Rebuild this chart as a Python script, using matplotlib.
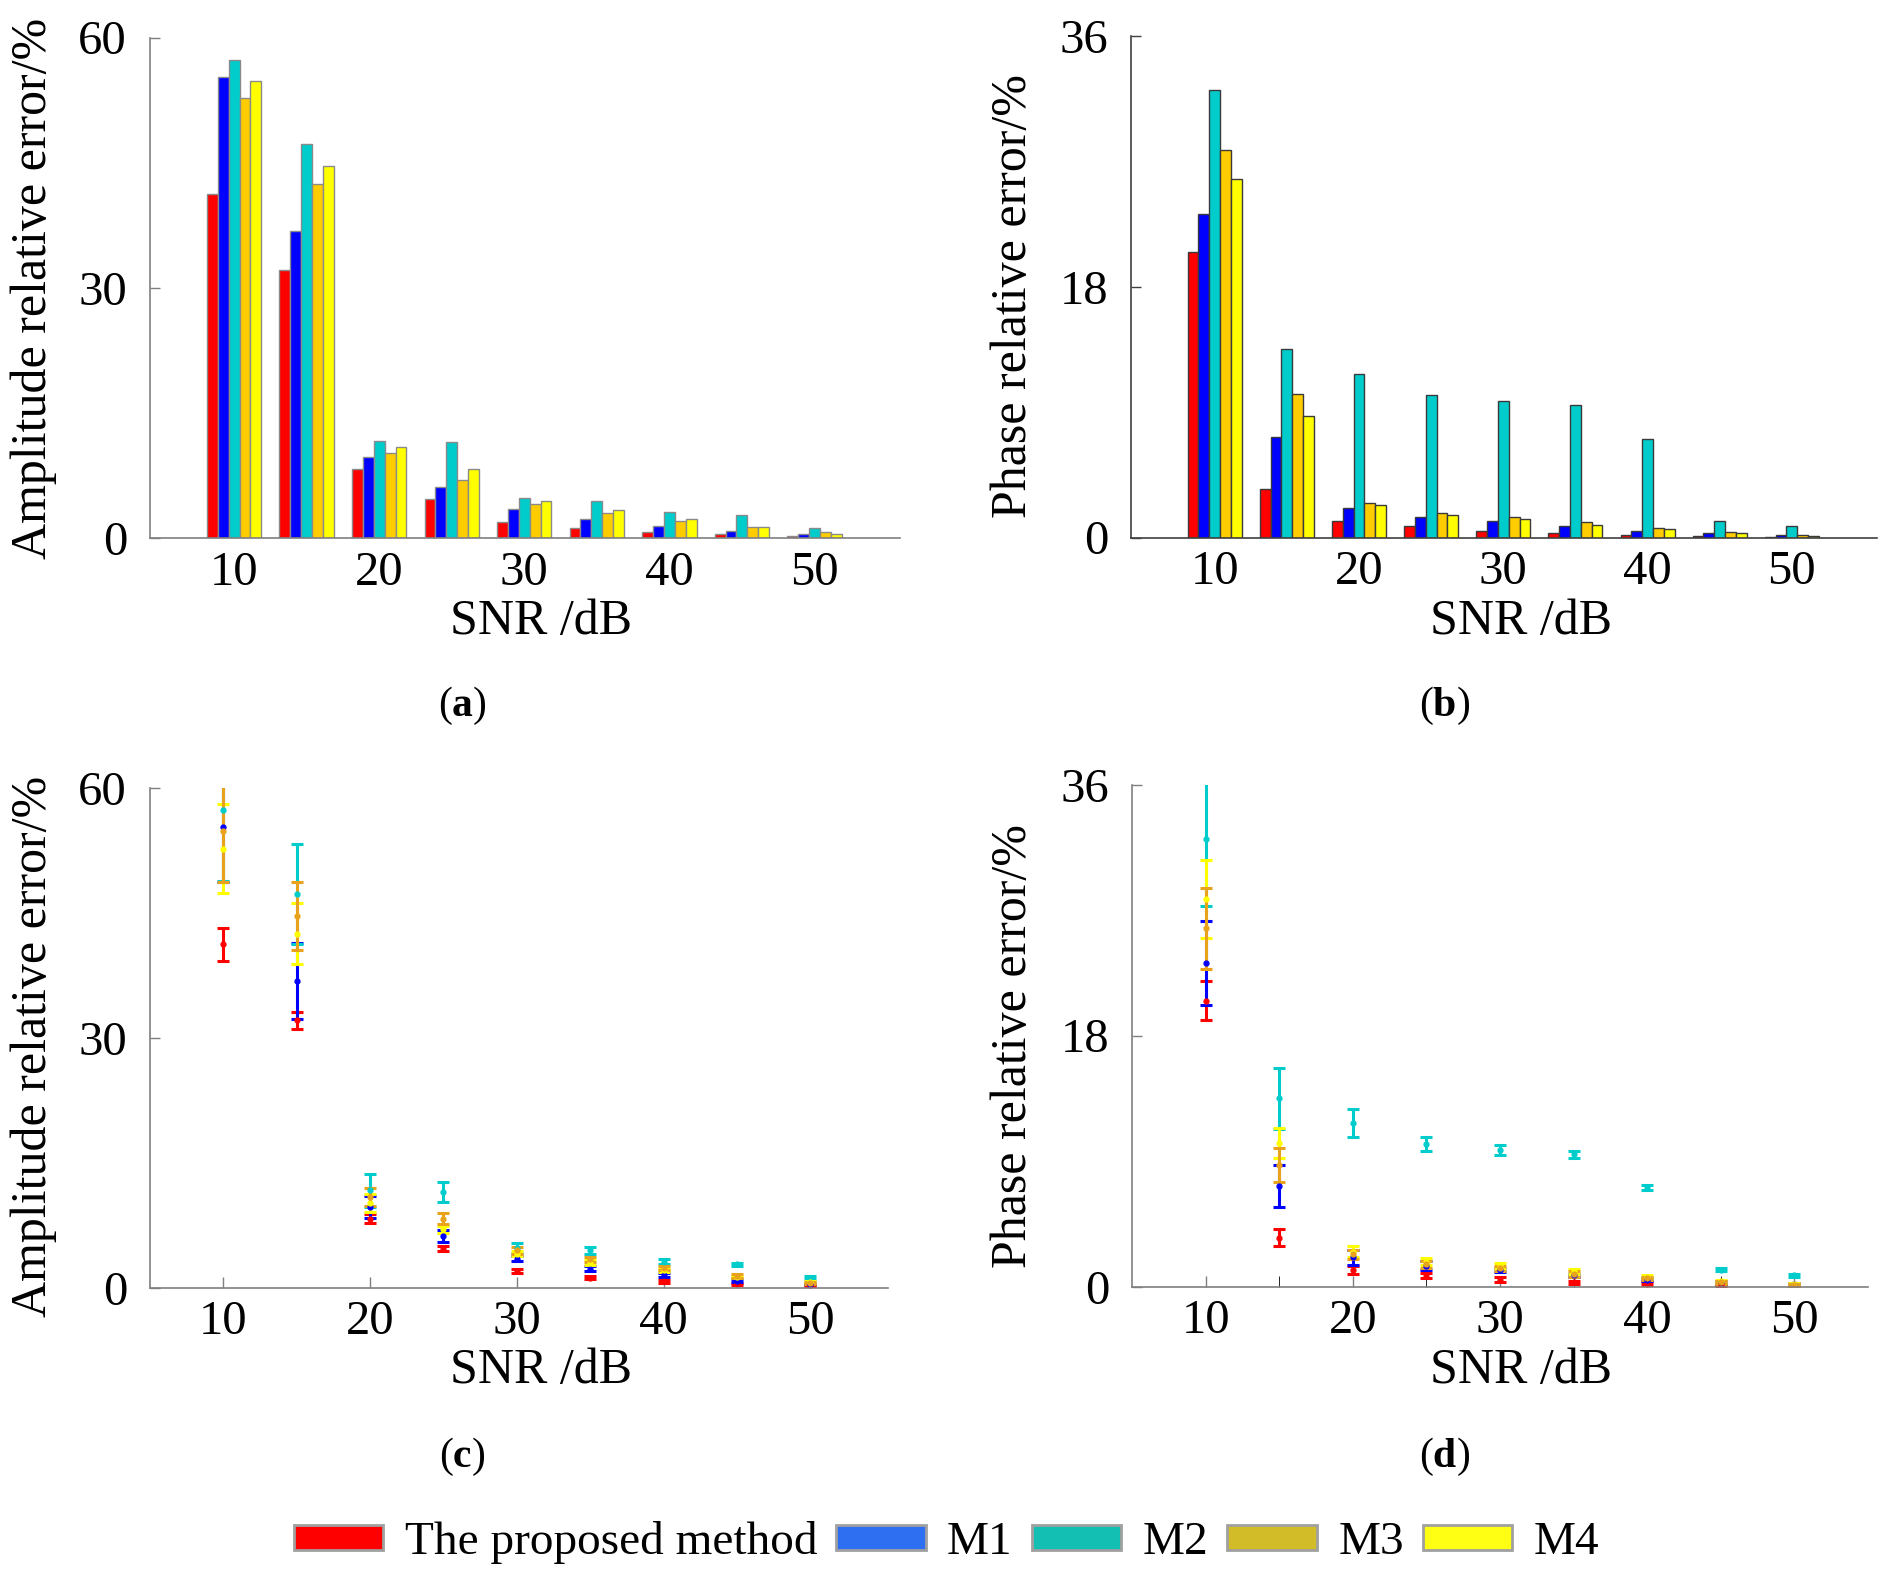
"""Amplitude / phase relative error vs SNR: grouped bars (a, b) and error bars (c, d)."""

import matplotlib

matplotlib.use("Agg")
import matplotlib.pyplot as plt
import numpy as np
from matplotlib.patches import Patch

plt.rcParams["font.family"] = ["Liberation Serif", "DejaVu Serif"]
plt.rcParams["mathtext.fontset"] = "custom"
plt.rcParams["mathtext.rm"] = "Liberation Serif"
plt.rcParams["mathtext.bf"] = "Liberation Serif:bold"

# ---- data ----
SNR = [10, 15, 20, 25, 30, 35, 40, 45, 50]
METHODS = ["The proposed method", "M1", "M2", "M3", "M4"]

amp_proposed = [41.2, 32.1, 8.3, 4.7, 2.0, 1.2, 0.77, 0.49, 0.28]
amp_m1 = [55.3, 36.8, 9.7, 6.2, 3.5, 2.3, 1.5, 0.85, 0.49]
amp_m2 = [57.3, 47.3, 11.7, 11.5, 4.8, 4.5, 3.1, 2.8, 1.2]
amp_m3 = [52.7, 42.5, 10.2, 7.0, 4.1, 3.0, 2.1, 1.3, 0.7]
amp_m4 = [54.8, 44.6, 10.9, 8.3, 4.5, 3.4, 2.35, 1.4, 0.57]

ph_proposed = [20.5, 3.5, 1.19, 0.8, 0.5, 0.29, 0.19, 0.1, 0.07]
ph_m1 = [23.2, 7.2, 2.1, 1.5, 1.19, 0.8, 0.5, 0.29, 0.19]
ph_m2 = [32.1, 13.5, 11.7, 10.2, 9.8, 9.5, 7.1, 1.21, 0.8]
ph_m3 = [27.8, 10.3, 2.5, 1.77, 1.5, 1.09, 0.7, 0.36, 0.19]
ph_m4 = [25.7, 8.7, 2.3, 1.6, 1.3, 0.9, 0.58, 0.29, 0.1]

amp_std_proposed = [2.0, 1.0, 0.5, 0.3, 0.2, 0.15, 0.15, 0.12, 0.1]
amp_std_m1 = [6.6, 4.6, 1.3, 0.7, 0.3, 0.3, 0.25, 0.2, 0.1]
amp_std_m2 = [8.5, 6.0, 2.0, 1.2, 0.6, 0.4, 0.3, 0.2, 0.15]
amp_std_m3 = [5.3, 3.7, 1.1, 0.4, 0.3, 0.3, 0.2, 0.15, 0.1]
amp_std_m4 = [6.1, 4.1, 1.1, 0.65, 0.4, 0.3, 0.2, 0.2, 0.1]

ph_std_proposed = [1.4, 0.6, 0.3, 0.2, 0.15, 0.12, 0.1, 0.08, 0.05]
ph_std_m1 = [3.0, 1.5, 0.55, 0.3, 0.15, 0.12, 0.1, 0.08, 0.05]
ph_std_m2 = [4.8, 2.2, 1.0, 0.5, 0.35, 0.25, 0.15, 0.1, 0.1]
ph_std_m3 = [2.8, 1.1, 0.4, 0.25, 0.2, 0.2, 0.12, 0.08, 0.05]
ph_std_m4 = [2.9, 1.2, 0.35, 0.25, 0.2, 0.2, 0.12, 0.08, 0.05]

BAR_COLORS = ["#FF0000", "#0000FF", "#00CCCC", "#FFCC00", "#FFFF00"]
# the error-bar panels draw M3 in yellow and M4 in goldenrod
EB_COLORS = ["#FF0000", "#0000FF", "#00CCCC", "#FFFF00", "#E8A21C"]
LEGEND_COLORS = ["#FF0000", "#2E6FF2", "#13BFB2", "#D2BC28", "#FFFF14"]

BAR_W = 0.75
TICK_FS = 35
LABEL_FS = 36

W, H = 1893, 1584
fig = plt.figure(figsize=(W / 100, H / 100), dpi=100)


def add_axes(left, top, right, bottom):
    return fig.add_axes([left / W, 1 - bottom / H, (right - left) / W, (bottom - top) / H])


def style(ax, spine_color):
    for side in ("top", "right"):
        ax.spines[side].set_visible(False)
    for side in ("left", "bottom"):
        ax.spines[side].set_color(spine_color)
        ax.spines[side].set_linewidth(1.2)
    ax.tick_params(colors=spine_color, labelcolor="black", labelsize=TICK_FS, width=1)
    ax.tick_params(axis="y", direction="in", length=7, pad=16.5)


def bar_panel(ax, series, ylim, yticks, edge, spine_color):
    x = np.array(SNR, dtype=float)
    for i, (vals, color) in enumerate(zip(series, BAR_COLORS)):
        ax.bar(x + (i - 2) * BAR_W, vals, width=BAR_W, color=color,
               edgecolor=edge, linewidth=1.0)
    ax.set_xlim(4.2, 55.9)
    ax.set_ylim(*ylim)
    ax.set_yticks(yticks)
    ax.set_xticks([10, 20, 30, 40, 50])
    style(ax, spine_color)
    ax.tick_params(axis="x", length=0, pad=9)


def errorbar_panel(ax, means, stds, ylim, yticks, xlim, minor=False):
    for vals, err, color in zip(means, stds, EB_COLORS):
        ax.errorbar(SNR, vals, yerr=err, fmt="o", color=color, ms=3.5,
                    elinewidth=2.2, capsize=4, capthick=2.2)
    ax.set_xlim(*xlim)
    ax.set_ylim(*ylim)
    ax.set_yticks(yticks)
    ax.set_xticks([10, 20, 30, 40, 50])
    if minor:
        ax.set_xticks([15, 25, 35, 45], minor=True)
    style(ax, "#7f7f7f")
    ax.tick_params(axis="x", which="both", direction="in", length=8, pad=9)


ax_a = add_axes(150, 37.5, 900, 538.3)
ax_b = add_axes(1131, 35.6, 1877, 537.5)
ax_c = add_axes(150, 787.7, 888, 1287.7)
ax_d = add_axes(1132, 784.5, 1868, 1286.5)

bar_panel(ax_a, [amp_proposed, amp_m1, amp_m2, amp_m3, amp_m4],
          (0, 60), [0, 30, 60], "#8a8a8a", "#7f7f7f")
bar_panel(ax_b, [ph_proposed, ph_m1, ph_m2, ph_m3, ph_m4],
          (0, 36), [0, 18, 36], "#3a3a3a", "#404040")
errorbar_panel(ax_c, [amp_proposed, amp_m1, amp_m2, amp_m3, amp_m4],
               [amp_std_proposed, amp_std_m1, amp_std_m2, amp_std_m3, amp_std_m4],
               (0, 60), [0, 30, 60], (5.0, 55.3))
errorbar_panel(ax_d, [ph_proposed, ph_m1, ph_m2, ph_m3, ph_m4],
               [ph_std_proposed, ph_std_m1, ph_std_m2, ph_std_m3, ph_std_m4],
               (0, 36), [0, 18, 36], (5.0, 55.0), minor=True)

# axis labels and panel tags
for (x, y), text in [((34, 288), "Amplitude relative error/%"),
                     ((1014, 296), "Phase relative error/%"),
                     ((34, 1046), "Amplitude relative error/%"),
                     ((1014, 1046), "Phase relative error/%")]:
    fig.text(x / W, 1 - y / H, text, rotation=90, ha="center", va="center",
             fontsize=LABEL_FS)

for x, y in [(541, 622), (1521, 622), (541, 1371), (1521, 1371)]:
    fig.text(x / W, 1 - y / H, "SNR /dB", ha="center", va="center", fontsize=LABEL_FS)

for (x, y), tag in [((462, 706), "a"), ((1445, 706), "b"),
                    ((462, 1457), "c"), ((1445, 1457), "d")]:
    fig.text(x / W, 1 - y / H, r"($\mathbf{%s}$)" % tag, ha="center", va="center",
             fontsize=30)

handles = [Patch(facecolor=c, edgecolor="#a0a0a0", linewidth=2) for c in LEGEND_COLORS]
fig.legend(handles, METHODS, loc="center", bbox_to_anchor=(0.5, 1 - 1543 / H), ncol=5,
           frameon=False, fontsize=34, handlelength=1.9, handleheight=0.45,
           handletextpad=0.45, columnspacing=0.4, borderpad=0)

fig.savefig("out.png", dpi=100)
plt.close(fig)
